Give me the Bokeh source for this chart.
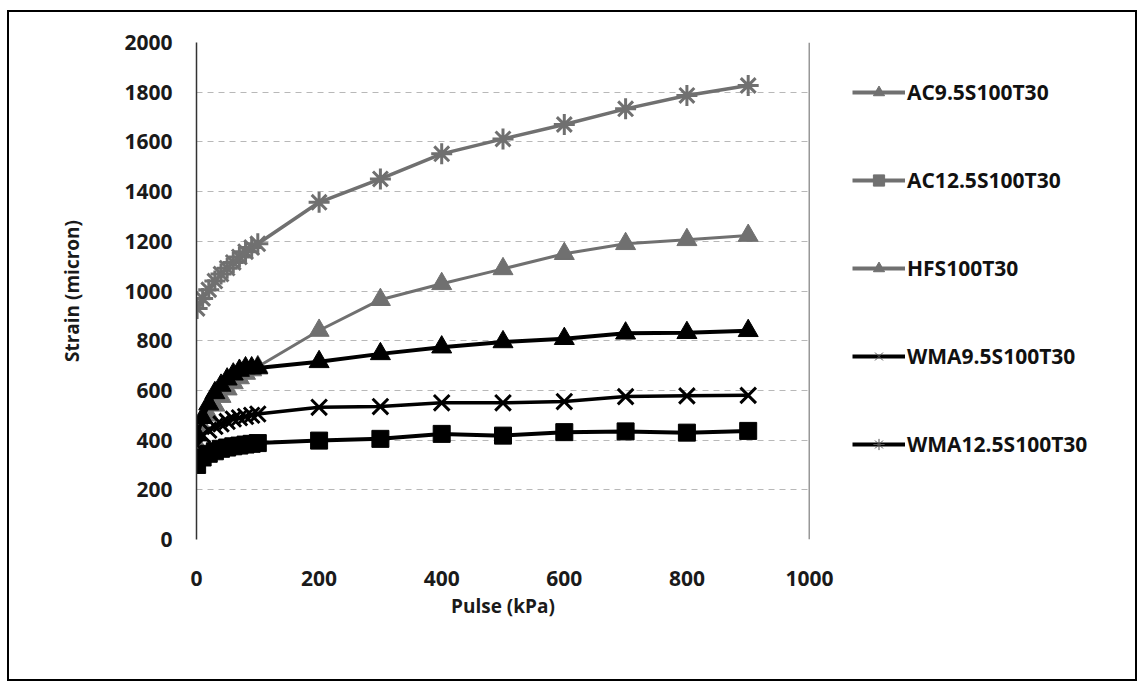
import math
from bokeh.plotting import figure
from bokeh.layouts import row
from bokeh.models import (ColumnDataSource, Legend, LegendItem, Span,
                          FixedTicker, Range1d)
from bokeh.embed import file_html
from bokeh.resources import INLINE

# ---------------- data ----------------
pulse = [1, 10, 20, 30, 40, 50, 60, 70, 80, 90, 100, 200, 300, 400, 500, 600, 700, 800, 900]
ac95 = [380, 450, 500, 540, 575, 605, 630, 650, 668, 682, 695, 841, 965, 1029, 1089, 1150, 1190, 1206, 1223]
ac125 = [300, 330, 345, 355, 365, 370, 375, 378, 382, 385, 388, 398, 405, 425, 418, 432, 435, 430, 437]
hfs = [420, 490, 545, 590, 620, 645, 665, 680, 690, 690, 690, 715, 747, 774, 795, 808, 830, 832, 840]
wma95 = [380, 420, 440, 455, 465, 475, 485, 490, 495, 500, 505, 532, 535, 550, 550, 555, 575, 578, 580]
wma125 = [930, 970, 1005, 1040, 1068, 1092, 1115, 1137, 1158, 1175, 1190, 1357, 1451, 1552, 1612, 1670, 1733, 1787, 1827]

series_names = ["AC9.5S100T30", "AC12.5S100T30", "HFS100T30", "WMA9.5S100T30", "WMA12.5S100T30"]
x_ticks = [0, 200, 400, 600, 800, 1000]
y_ticks = [0, 200, 400, 600, 800, 1000, 1200, 1400, 1600, 1800, 2000]

GRAY = "#707070"
BLACK = "#000000"
FONT = "Open Sans"

# main plot (window offset of the row content is (9, 12))
p = figure(width=830, height=667, output_backend="svg", toolbar_location=None,
           x_range=Range1d(0, 1000), y_range=Range1d(0, 2000),
           min_border_left=187, min_border_right=30, min_border_top=30, min_border_bottom=140)
p.outline_line_color = None
p.background_fill_color = "white"
p.border_fill_color = "white"

# axes
p.xaxis.ticker = FixedTicker(ticks=x_ticks)
p.yaxis.ticker = FixedTicker(ticks=y_ticks)
for ax in (p.xaxis[0], p.yaxis[0]):
    ax.major_tick_line_color = None
    ax.minor_tick_line_color = None
    ax.major_label_text_font = FONT
    ax.major_label_text_font_style = "bold"
    ax.major_label_text_font_size = "21px"
    ax.major_label_text_color = "#1a1a1a"
    ax.axis_label_text_font = FONT
    ax.axis_label_text_font_style = "bold"
    ax.axis_label_text_font_size = "19px"
    ax.axis_label_text_color = "#1a1a1a"
p.xaxis.axis_line_color = None
p.yaxis.axis_line_color = "#333333"
p.yaxis.axis_line_width = 1.5
p.xaxis.major_label_standoff = 25
p.yaxis.major_label_standoff = 18
p.xaxis.axis_label = "Pulse (kPa)"
p.yaxis.axis_label = "Strain (micron)"
p.xaxis.axis_label_standoff = 4
p.yaxis.axis_label_standoff = 36

# grid
p.xgrid.grid_line_color = None
p.ygrid.ticker = FixedTicker(ticks=y_ticks[1:])
p.ygrid.grid_line_color = "#9a9a9a"
p.ygrid.grid_line_dash = "6 5"
p.ygrid.grid_line_alpha = 0.7

# right frame edge
p.add_layout(Span(location=1000, dimension="height", line_color="#333333", line_width=1.5))

# series (plot colours as they appear)
style = {
    "AC9.5S100T30": dict(color=GRAY, lw=3, marker="triangle", size=20),
    "AC12.5S100T30": dict(color=BLACK, lw=4, marker="square", size=17),
    "HFS100T30": dict(color=BLACK, lw=4, marker="triangle", size=20),
    "WMA9.5S100T30": dict(color=BLACK, lw=3.5, marker="x", size=22),
    "WMA12.5S100T30": dict(color=GRAY, lw=3.5, marker="asterisk", size=21),
}
data = {"AC9.5S100T30": ac95, "AC12.5S100T30": ac125, "HFS100T30": hfs,
        "WMA9.5S100T30": wma95, "WMA12.5S100T30": wma125}

for name in series_names:
    st = style[name]
    src = ColumnDataSource(dict(x=pulse, y=data[name]))
    p.line("x", "y", source=src, line_color=st["color"], line_width=st["lw"])
    if st["marker"] in ("x", "asterisk"):
        p.scatter("x", "y", source=src, marker=st["marker"], size=st["size"],
                  line_color=st["color"], line_width=3)
    else:
        p.scatter("x", "y", source=src, marker=st["marker"], size=st["size"],
                  fill_color=st["color"], line_color=st["color"])

# legend panel (colours as in the reference legend)
q = figure(width=296, height=667, output_backend="svg", toolbar_location=None,
           x_range=Range1d(0, 1), y_range=Range1d(0, 1),
           x_axis_location=None, y_axis_location=None,
           min_border_left=0, min_border_right=0, min_border_top=0, min_border_bottom=0)
q.grid.visible = False
q.outline_line_color = None
q.background_fill_color = "white"
q.border_fill_color = "white"

leg_style = {
    "AC9.5S100T30": dict(color=GRAY, marker="triangle", size=13),
    "AC12.5S100T30": dict(color=GRAY, marker="square", size=13),
    "HFS100T30": dict(color=GRAY, marker="triangle", size=13),
    "WMA9.5S100T30": dict(color=BLACK, marker="x", size=12),
    "WMA12.5S100T30": dict(color=BLACK, marker="asterisk", size=11),
}
items = []
for name in series_names:
    st = leg_style[name]
    dsrc = ColumnDataSource(dict(x=[math.nan], y=[math.nan]))
    r1 = q.line("x", "y", source=dsrc, line_color=st["color"], line_width=4)
    if st["marker"] in ("x", "asterisk"):
        r2 = q.scatter("x", "y", source=dsrc, marker=st["marker"], size=st["size"],
                       line_color="#555555", line_width=1)
    else:
        r2 = q.scatter("x", "y", source=dsrc, marker=st["marker"], size=st["size"],
                       fill_color=st["color"], line_color=st["color"])
    items.append(LegendItem(label=name, renderers=[r1, r2]))

legend = Legend(items=items, location=(13, 81))
legend.padding = 0
legend.margin = 0
legend.border_line_color = None
legend.background_fill_alpha = 0
legend.glyph_width = 53
legend.glyph_height = 28
legend.label_height = 28
legend.spacing = 60
legend.label_standoff = 2
legend.label_text_font = FONT
legend.label_text_font_style = "bold"
legend.label_text_font_size = "21px"
legend.label_text_color = "#111111"
q.add_layout(legend, "center")

layout = row(p, q)
layout.margin = (10, 0, 0, 7)
layout.styles = {"border": "2px solid black"}

open("out.html", "w").write(file_html(layout, INLINE))
